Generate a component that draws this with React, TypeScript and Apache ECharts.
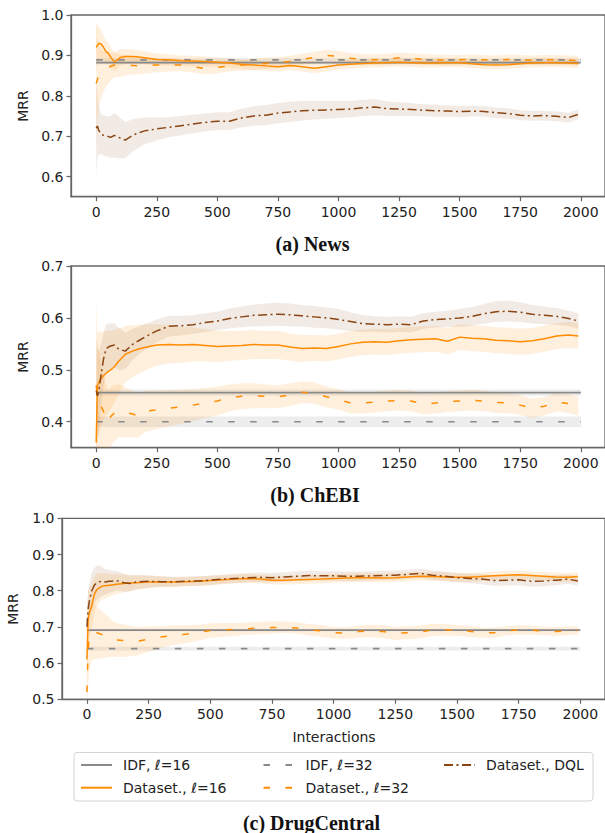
import React, { useEffect, useRef } from "react";
import * as echarts from "echarts";

// Interaction steps at which the curves were read
const X = [
  0, 5, 10, 20, 30, 40, 50, 60, 75, 90,
  100, 120, 150, 175, 200, 250, 300, 350, 400, 450,
  500, 550, 600, 650, 700, 750, 800, 850, 900, 950,
  1000, 1050, 1100, 1150, 1200, 1250, 1300, 1350, 1400, 1450,
  1500, 1550, 1600, 1650, 1700, 1750, 1800, 1850, 1900, 1950,
  1990,
];
const IDF_X = [0, 2000];
const X_TICKS = [0, 250, 500, 750, 1000, 1250, 1500, 1750, 2000];

const SERIES_NAMES = ["IDF, ℓ=16", "IDF, ℓ=32", "Dataset., ℓ=16", "Dataset., ℓ=32", "Dataset., DQL"];

// ---------- (a) News ----------
const NEWS_IDF16 = 0.882;
const NEWS_IDF32 = 0.889;
const NEWS_IDF16_HW = 0.004;
const NEWS_IDF32_HW = 0.004;
const NEWS_D16 = [
  0.92, 0.925, 0.93, 0.928, 0.92, 0.91, 0.905, 0.895, 0.884, 0.89,
  0.895, 0.897, 0.897, 0.896, 0.894, 0.89, 0.889, 0.887, 0.886, 0.885,
  0.883, 0.881, 0.878, 0.876, 0.874, 0.872, 0.875, 0.872, 0.868, 0.872,
  0.876, 0.878, 0.88, 0.881, 0.882, 0.883, 0.882, 0.881, 0.881, 0.882,
  0.882, 0.879, 0.877, 0.876, 0.877, 0.879, 0.881, 0.882, 0.882, 0.881,
  0.88,
];
const NEWS_D16_HW = [
  0.06, 0.05, 0.04, 0.035, 0.03, 0.028, 0.026, 0.025, 0.024, 0.022,
  0.02, 0.019, 0.018, 0.017, 0.016, 0.015, 0.014, 0.013, 0.013, 0.012,
  0.012, 0.012, 0.012, 0.012, 0.012, 0.012, 0.012, 0.012, 0.012, 0.012,
  0.011, 0.011, 0.011, 0.011, 0.011, 0.011, 0.011, 0.011, 0.011, 0.011,
  0.011, 0.011, 0.011, 0.011, 0.011, 0.011, 0.011, 0.011, 0.011, 0.011,
  0.011,
];
const NEWS_D32 = [
  0.83, 0.84, 0.85, 0.855, 0.86, 0.866, 0.87, 0.873, 0.876, 0.876,
  0.875, 0.876, 0.875, 0.874, 0.875, 0.876, 0.876, 0.876, 0.872, 0.867,
  0.87, 0.874, 0.876, 0.878, 0.88, 0.882, 0.885, 0.89, 0.895, 0.9,
  0.898, 0.893, 0.89, 0.889, 0.891, 0.894, 0.893, 0.89, 0.889, 0.888,
  0.889, 0.89, 0.889, 0.888, 0.89, 0.889, 0.888, 0.889, 0.889, 0.888,
  0.887,
];
const NEWS_D32_HW = [
  0.16, 0.1, 0.08, 0.06, 0.05, 0.045, 0.04, 0.035, 0.03, 0.029,
  0.028, 0.025, 0.022, 0.021, 0.02, 0.018, 0.016, 0.015, 0.015, 0.014,
  0.014, 0.014, 0.014, 0.014, 0.014, 0.014, 0.014, 0.014, 0.014, 0.014,
  0.013, 0.013, 0.013, 0.013, 0.013, 0.013, 0.013, 0.013, 0.013, 0.013,
  0.012, 0.012, 0.012, 0.012, 0.012, 0.012, 0.012, 0.012, 0.012, 0.012,
  0.012,
];
const NEWS_DQL = [
  0.72, 0.725, 0.715, 0.705, 0.702, 0.7, 0.699, 0.697, 0.702, 0.698,
  0.695, 0.69, 0.702, 0.708, 0.713, 0.718, 0.722, 0.726, 0.73, 0.734,
  0.737, 0.737, 0.745, 0.75, 0.752, 0.757, 0.76, 0.763, 0.764, 0.765,
  0.766, 0.767, 0.77, 0.772, 0.768, 0.767, 0.766, 0.764, 0.763, 0.762,
  0.761, 0.762, 0.761, 0.758, 0.756, 0.752, 0.75, 0.751, 0.749, 0.746,
  0.754,
];
const NEWS_DQL_HW = [
  0.12, 0.08, 0.06, 0.05, 0.05, 0.05, 0.05, 0.052, 0.055, 0.053,
  0.05, 0.045, 0.04, 0.036, 0.033, 0.028, 0.025, 0.024, 0.023, 0.022,
  0.022, 0.022, 0.023, 0.024, 0.025, 0.025, 0.025, 0.024, 0.023, 0.022,
  0.021, 0.02, 0.02, 0.02, 0.018, 0.017, 0.016, 0.015, 0.015, 0.014,
  0.014, 0.013, 0.013, 0.013, 0.013, 0.012, 0.012, 0.012, 0.012, 0.012,
  0.012,
];

// ---------- (b) ChEBI ----------
const CHEBI_IDF16 = 0.456;
const CHEBI_IDF32 = 0.4;
const CHEBI_IDF16_HW = 0.006;
const CHEBI_IDF32_HW = 0.01;
const CHEBI_D16 = [
  0.36, 0.469, 0.475, 0.483, 0.489, 0.493, 0.497, 0.5, 0.506, 0.515,
  0.52, 0.53, 0.536, 0.54, 0.543, 0.548, 0.549, 0.548, 0.549, 0.547,
  0.545, 0.546, 0.547, 0.549, 0.548, 0.548, 0.544, 0.541, 0.542, 0.541,
  0.545, 0.55, 0.553, 0.554, 0.553, 0.556, 0.558, 0.559, 0.56, 0.555,
  0.563, 0.561, 0.56, 0.557, 0.556, 0.554, 0.556, 0.56, 0.565, 0.567,
  0.565,
];
const CHEBI_D16_HW = [
  0.12, 0.1, 0.1, 0.09, 0.085, 0.082, 0.08, 0.075, 0.07, 0.065,
  0.06, 0.055, 0.05, 0.047, 0.045, 0.04, 0.037, 0.035, 0.033, 0.031,
  0.03, 0.029, 0.028, 0.028, 0.027, 0.027, 0.026, 0.026, 0.025, 0.025,
  0.025, 0.025, 0.025, 0.025, 0.025, 0.025, 0.025, 0.025, 0.025, 0.025,
  0.025, 0.025, 0.025, 0.025, 0.025, 0.025, 0.025, 0.025, 0.025, 0.025,
  0.025,
];
const CHEBI_D32 = [
  0.47, 0.45, 0.44, 0.43, 0.42, 0.41, 0.399, 0.41, 0.417, 0.42,
  0.421, 0.418, 0.415, 0.411, 0.42, 0.423, 0.426, 0.429, 0.432, 0.436,
  0.44, 0.446, 0.449, 0.45, 0.449, 0.448, 0.452, 0.457, 0.455, 0.448,
  0.443, 0.436, 0.436, 0.438, 0.44, 0.441, 0.44, 0.434, 0.436, 0.439,
  0.44, 0.441, 0.44, 0.437, 0.436, 0.432, 0.426, 0.43, 0.438, 0.435,
  0.43,
];
const CHEBI_D32_HW = [
  0.17, 0.12, 0.1, 0.08, 0.07, 0.065, 0.06, 0.057, 0.054, 0.052,
  0.05, 0.048, 0.045, 0.042, 0.04, 0.037, 0.035, 0.033, 0.031, 0.029,
  0.028, 0.026, 0.025, 0.024, 0.023, 0.022, 0.022, 0.021, 0.021, 0.02,
  0.02, 0.02, 0.02, 0.02, 0.02, 0.02, 0.02, 0.02, 0.02, 0.02,
  0.02, 0.02, 0.02, 0.02, 0.019, 0.019, 0.019, 0.018, 0.018, 0.018,
  0.018,
];
const CHEBI_DQL = [
  0.46, 0.45, 0.457, 0.49, 0.52, 0.54, 0.544, 0.546, 0.548, 0.541,
  0.539, 0.536, 0.549, 0.556, 0.563, 0.575, 0.584, 0.585, 0.587, 0.591,
  0.594, 0.599, 0.602, 0.605, 0.606, 0.607, 0.606, 0.604, 0.602, 0.6,
  0.597, 0.593, 0.589, 0.588, 0.587, 0.588, 0.587, 0.594, 0.597, 0.598,
  0.6, 0.603, 0.608, 0.612, 0.613, 0.611, 0.607, 0.605, 0.603, 0.599,
  0.594,
];
const CHEBI_DQL_HW = [
  0.1, 0.09, 0.08, 0.06, 0.05, 0.047, 0.045, 0.043, 0.042, 0.041,
  0.04, 0.035, 0.03, 0.027, 0.025, 0.022, 0.02, 0.019, 0.018, 0.018,
  0.018, 0.019, 0.02, 0.021, 0.022, 0.022, 0.022, 0.021, 0.021, 0.02,
  0.02, 0.018, 0.016, 0.015, 0.015, 0.015, 0.015, 0.015, 0.015, 0.016,
  0.017, 0.018, 0.019, 0.02, 0.02, 0.019, 0.018, 0.017, 0.016, 0.015,
  0.015,
];

// ---------- (c) DrugCentral ----------
const DC_IDF16 = 0.691;
const DC_IDF32 = 0.64;
const DC_IDF16_HW = 0.003;
const DC_IDF32_HW = 0.005;
const DC_D16 = [
  0.61, 0.72, 0.74, 0.758, 0.79, 0.803, 0.808, 0.812, 0.814, 0.815,
  0.816, 0.818, 0.82, 0.821, 0.822, 0.824, 0.825, 0.824, 0.825, 0.826,
  0.828, 0.83, 0.832, 0.834, 0.832, 0.829, 0.829, 0.83, 0.831, 0.832,
  0.834, 0.835, 0.836, 0.836, 0.835, 0.836, 0.838, 0.84, 0.839, 0.838,
  0.837, 0.837, 0.839, 0.841, 0.843, 0.844, 0.842, 0.84, 0.838, 0.837,
  0.839,
];
const DC_D16_HW = [
  0.1, 0.08, 0.07, 0.06, 0.05, 0.045, 0.04, 0.037, 0.035, 0.032,
  0.03, 0.027, 0.025, 0.022, 0.02, 0.017, 0.015, 0.014, 0.013, 0.013,
  0.013, 0.012, 0.012, 0.012, 0.012, 0.012, 0.012, 0.012, 0.012, 0.012,
  0.012, 0.012, 0.012, 0.012, 0.012, 0.012, 0.012, 0.012, 0.012, 0.012,
  0.012, 0.012, 0.012, 0.012, 0.012, 0.012, 0.012, 0.012, 0.012, 0.012,
  0.012,
];
const DC_D32 = [
  0.52, 0.64, 0.67, 0.688, 0.686, 0.684, 0.682, 0.679, 0.675, 0.672,
  0.668, 0.664, 0.662, 0.661, 0.66, 0.666, 0.672, 0.677, 0.68, 0.684,
  0.69, 0.692, 0.693, 0.695, 0.697, 0.698, 0.699, 0.697, 0.692, 0.689,
  0.684, 0.683, 0.687, 0.689, 0.687, 0.682, 0.684, 0.686, 0.692, 0.692,
  0.69, 0.688, 0.684, 0.684, 0.689, 0.692, 0.691, 0.689, 0.687, 0.689,
  0.69,
];
const DC_D32_HW = [
  0.1, 0.1, 0.09, 0.08, 0.075, 0.072, 0.07, 0.065, 0.06, 0.055,
  0.05, 0.047, 0.045, 0.042, 0.04, 0.035, 0.03, 0.027, 0.025, 0.022,
  0.02, 0.019, 0.018, 0.017, 0.017, 0.017, 0.016, 0.016, 0.016, 0.016,
  0.016, 0.016, 0.017, 0.017, 0.018, 0.018, 0.018, 0.018, 0.017, 0.016,
  0.015, 0.015, 0.014, 0.014, 0.013, 0.013, 0.013, 0.012, 0.012, 0.012,
  0.012,
];
const DC_DQL = [
  0.7, 0.75, 0.772, 0.8, 0.815, 0.822, 0.825, 0.826, 0.824, 0.826,
  0.826, 0.828, 0.822, 0.82, 0.824, 0.826, 0.825, 0.824, 0.826, 0.827,
  0.829, 0.832, 0.834, 0.836, 0.837, 0.836, 0.838, 0.84, 0.842, 0.841,
  0.841, 0.84, 0.84, 0.841, 0.842, 0.843, 0.845, 0.848, 0.843, 0.84,
  0.836, 0.834, 0.832, 0.828, 0.829, 0.83, 0.826, 0.827, 0.829, 0.832,
  0.827,
];
const DC_DQL_HW = [
  0.06, 0.05, 0.05, 0.05, 0.048, 0.047, 0.045, 0.04, 0.035, 0.032,
  0.03, 0.027, 0.025, 0.022, 0.02, 0.017, 0.015, 0.014, 0.013, 0.013,
  0.013, 0.013, 0.013, 0.013, 0.013, 0.013, 0.013, 0.013, 0.013, 0.013,
  0.013, 0.013, 0.013, 0.013, 0.013, 0.013, 0.013, 0.013, 0.013, 0.013,
  0.013, 0.013, 0.014, 0.014, 0.015, 0.015, 0.015, 0.015, 0.014, 0.013,
  0.013,
];

const NEWS_Y_TICKS = [0.6, 0.7, 0.8, 0.9, 1.0];
const CHEBI_Y_TICKS = [0.4, 0.5, 0.6, 0.7];
const DC_Y_TICKS = [0.5, 0.6, 0.7, 0.8, 0.9, 1.0];

const GRAY = "#8a8a8a";
const ORANGE = "#ff8c00";
const BROWN = "#8b4513";
const GRAY_BAND = "rgba(128,128,128,0.14)";
const ORANGE_BAND = "rgba(255,140,0,0.13)";
const BROWN_BAND = "rgba(139,69,19,0.11)";
const DASH = [6.5, 15.5];
const DASHDOT = [9, 3.5, 2, 3.5];
const TEXT = "#222";
const SPINE = "#666";
const FONT = "DejaVu Sans";

type Panel = {
  idf16: number; idf32: number; idf16hw: number; idf32hw: number;
  d16: number[]; d16hw: number[]; d32: number[]; d32hw: number[];
  dql: number[]; dqlhw: number[];
  yMin: number; yMax: number; yTicks: number[];
  xMin: number; grid: { left: number; top: number; width: number; height: number };
};

const PANELS: Panel[] = [
  {
    idf16: NEWS_IDF16, idf32: NEWS_IDF32, idf16hw: NEWS_IDF16_HW, idf32hw: NEWS_IDF32_HW,
    d16: NEWS_D16, d16hw: NEWS_D16_HW, d32: NEWS_D32, d32hw: NEWS_D32_HW, dql: NEWS_DQL, dqlhw: NEWS_DQL_HW,
    yMin: 0.55, yMax: 1.0, yTicks: NEWS_Y_TICKS, xMin: -104,
    grid: { left: 71, top: 15, width: 535, height: 181.7 },
  },
  {
    idf16: CHEBI_IDF16, idf32: CHEBI_IDF32, idf16hw: CHEBI_IDF16_HW, idf32hw: CHEBI_IDF32_HW,
    d16: CHEBI_D16, d16hw: CHEBI_D16_HW, d32: CHEBI_D32, d32hw: CHEBI_D32_HW, dql: CHEBI_DQL, dqlhw: CHEBI_DQL_HW,
    yMin: 0.35, yMax: 0.7, yTicks: CHEBI_Y_TICKS, xMin: -104,
    grid: { left: 71, top: 266, width: 535, height: 181.7 },
  },
  {
    idf16: DC_IDF16, idf32: DC_IDF32, idf16hw: DC_IDF16_HW, idf32hw: DC_IDF32_HW,
    d16: DC_D16, d16hw: DC_D16_HW, d32: DC_D32, d32hw: DC_D32_HW, dql: DC_DQL, dqlhw: DC_DQL_HW,
    yMin: 0.5, yMax: 1.0, yTicks: DC_Y_TICKS, xMin: -101,
    grid: { left: 62, top: 518.3, width: 544.7, height: 181 },
  },
];

function bandSeries(i: number, xs: number[], mean: number[], hw: number[], fill: string, key: string) {
  const n = Math.min(xs.length, mean.length, hw.length);
  return {
    type: "custom",
    name: "band-" + key + "-" + i,
    xAxisIndex: i,
    yAxisIndex: i,
    silent: true,
    clip: true,
    z: 1,
    data: [[xs[0], mean[0]]],
    renderItem: (_params: any, api: any) => {
      const pts: number[][] = [];
      for (let k = 0; k < n; k++) pts.push(api.coord([xs[k], mean[k] + hw[k]]));
      for (let k = n - 1; k >= 0; k--) pts.push(api.coord([xs[k], mean[k] - hw[k]]));
      return { type: "polygon", shape: { points: pts }, style: { fill, stroke: "none" } };
    },
  };
}

function lineSeries(i: number, name: string, xs: number[], ys: number[], color: string, dash: any, width = 1.5, z = 3) {
  const n = Math.min(xs.length, ys.length);
  const data: number[][] = [];
  for (let k = 0; k < n; k++) data.push([xs[k], ys[k]]);
  return {
    type: "line",
    name,
    xAxisIndex: i,
    yAxisIndex: i,
    data,
    showSymbol: false,
    symbol: "none",
    clip: true,
    z,
    lineStyle: { color, width, type: dash },
    itemStyle: { color },
    emphasis: { disabled: true },
  };
}

function buildOption() {
  const grids: any[] = [];
  const xAxes: any[] = [];
  const yAxes: any[] = [];
  const series: any[] = [];

  PANELS.forEach((p, i) => {
    grids.push({ ...p.grid, show: true, borderColor: SPINE, borderWidth: 1.3, backgroundColor: "transparent" });
    xAxes.push({
      type: "value",
      gridIndex: i,
      min: p.xMin,
      max: 2100,
      axisLine: { show: true, onZero: false, lineStyle: { color: SPINE, width: 1.3 } },
      axisTick: { show: true, length: 4.5, lineStyle: { color: SPINE, width: 1.2 }, customValues: X_TICKS },
      axisLabel: {
        show: true, customValues: X_TICKS, fontSize: 14, fontFamily: FONT, color: TEXT, margin: 8,
        formatter: (v: number) => String(Math.round(v)),
      },
      splitLine: { show: false },
    });
    yAxes.push({
      type: "value",
      gridIndex: i,
      min: p.yMin,
      max: p.yMax,
      axisLine: { show: true, onZero: false, lineStyle: { color: SPINE, width: 1.3 } },
      axisTick: { show: true, length: 4.5, lineStyle: { color: SPINE, width: 1.2 }, customValues: p.yTicks },
      axisLabel: {
        show: true, customValues: p.yTicks, fontSize: 14, fontFamily: FONT, color: TEXT, margin: 7.5,
        formatter: (v: number) => v.toFixed(1),
      },
      splitLine: { show: false },
    });

    const idfY16 = IDF_X.map(() => p.idf16);
    const idfY32 = IDF_X.map(() => p.idf32);
    const idfHw16 = IDF_X.map(() => p.idf16hw);
    const idfHw32 = IDF_X.map(() => p.idf32hw);

    series.push(bandSeries(i, IDF_X, idfY16, idfHw16, GRAY_BAND, "idf16"));
    series.push(bandSeries(i, IDF_X, idfY32, idfHw32, GRAY_BAND, "idf32"));
    series.push(bandSeries(i, X, p.d16, p.d16hw, ORANGE_BAND, "d16"));
    series.push(bandSeries(i, X, p.d32, p.d32hw, ORANGE_BAND, "d32"));
    series.push(bandSeries(i, X, p.dql, p.dqlhw, BROWN_BAND, "dql"));

    series.push(lineSeries(i, SERIES_NAMES[0], IDF_X, idfY16, GRAY, "solid", 1.7));
    series.push(lineSeries(i, SERIES_NAMES[1], IDF_X, idfY32, GRAY, DASH, 1.7));
    series.push(lineSeries(i, SERIES_NAMES[2], X, p.d16, ORANGE, "solid", 1.5));
    series.push(lineSeries(i, SERIES_NAMES[3], X, p.d32, ORANGE, DASH, 1.5));
    series.push(lineSeries(i, SERIES_NAMES[4], X, p.dql, BROWN, DASHDOT, 1.5));
  });

  const legendCommon = {
    orient: "vertical",
    top: 758,
    itemWidth: 31,
    itemHeight: 14,
    itemGap: 8.7,
    padding: 0,
    selectedMode: false,
    itemStyle: { opacity: 0 },
    textStyle: { fontSize: 14, fontFamily: FONT, color: TEXT, lineHeight: 14, padding: [0, 0, 0, 6] },
  };

  const captionStyle = { fontSize: 20, fontFamily: "Liberation Serif", fontWeight: "bold", fill: "#111", align: "center", verticalAlign: "middle" };
  const axisNameStyle = { fontSize: 14, fontFamily: FONT, fill: TEXT, align: "center", verticalAlign: "middle" };

  return {
    animation: false,
    backgroundColor: "#ffffff",
    grid: grids,
    xAxis: xAxes,
    yAxis: yAxes,
    series,
    legend: [
      { ...legendCommon, left: 80, data: [SERIES_NAMES[0], SERIES_NAMES[2]] },
      { ...legendCommon, left: 262.5, data: [SERIES_NAMES[1], SERIES_NAMES[3]] },
      { ...legendCommon, left: 443, data: [SERIES_NAMES[4]] },
    ],
    graphic: [
      { type: "rect", z: -10, shape: { x: 74, y: 752.5, width: 519, height: 48.5, r: 3 }, style: { fill: "#fff", stroke: "#d4d4d4", lineWidth: 1 } },
      { type: "text", x: 23, y: 106, rotation: Math.PI / 2, style: { ...axisNameStyle, text: "MRR" } },
      { type: "text", x: 23, y: 357, rotation: Math.PI / 2, style: { ...axisNameStyle, text: "MRR" } },
      { type: "text", x: 12.7, y: 609, rotation: Math.PI / 2, style: { ...axisNameStyle, text: "MRR" } },
      { type: "text", x: 334, y: 737, style: { ...axisNameStyle, text: "Interactions" } },
      { type: "text", x: 312.5, y: 244, style: { ...captionStyle, text: "(a) News" } },
      { type: "text", x: 315, y: 495, style: { ...captionStyle, text: "(b) ChEBI" } },
      { type: "text", x: 311.5, y: 823, style: { ...captionStyle, text: "(c) DrugCentral" } },
    ],
  };
}

export default function App() {
  const ref = useRef<HTMLDivElement>(null);
  useEffect(() => {
    if (!ref.current) return;
    const chart = echarts.init(ref.current, null, { renderer: "svg" });
    chart.setOption(buildOption() as any);
    return () => chart.dispose();
  }, []);
  return (
    <div
      ref={ref}
      style={{ position: "fixed", left: 0, top: 0, width: 605, height: 833, background: "#fff" }}
    />
  );
}
